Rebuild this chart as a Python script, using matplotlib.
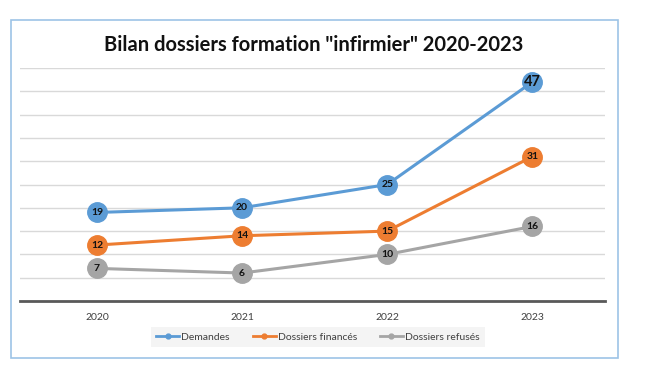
import matplotlib
matplotlib.use('Agg')
import matplotlib.pyplot as plt
from matplotlib.patches import Rectangle

plt.rcParams['font.family'] = ['Lato', 'DejaVu Sans']

# data
annees = ['2020', '2021', '2022', '2023']
demandes = [19, 20, 25, 47]
finances = [12, 14, 15, 31]
refuses = [7, 6, 10, 16]

series = [
    ('Demandes', demandes, '#5B9BD5'),
    ('Dossiers financés', finances, '#ED7D31'),
    ('Dossiers refusés', refuses, '#A5A5A5'),
]

W, H = 650, 370
fig = plt.figure(figsize=(W / 100, H / 100), dpi=100)

# chart border
fig.patches.append(Rectangle((11 / W, 1 - 358 / H), 607 / W, 338 / H, transform=fig.transFigure,
                             fill=False, edgecolor='#9DC3E6', lw=1.2))

ax = fig.add_axes([20 / W, 1 - 301 / H, 585 / W, 233 / H])
x = list(range(len(annees)))

for name, vals, col in series:
    ax.plot(x, vals, color=col, lw=2.2, marker='o', ms=14, mec=col, mfc=col, label=name, zorder=3)
    for xi, v in zip(x, vals):
        fs = 10.5 if v == 47 else 7.5
        ax.text(xi, v, str(v), ha='center', va='center', fontsize=fs, fontweight='bold',
                color='#111111', zorder=4)

ax.set_xlim(-0.53, len(annees) - 0.5)
ax.set_ylim(0, 50)
ax.set_yticks(range(0, 51, 5))
ax.set_yticklabels([])
ax.yaxis.grid(True, color='#D9D9D9', lw=1)
ax.set_axisbelow(True)
ax.tick_params(axis='y', length=0)
ax.tick_params(axis='x', length=0, labelsize=7.5, pad=9, colors='#404040')
ax.set_xticks(x)
ax.set_xticklabels(annees)
for s in ['top', 'right', 'left']:
    ax.spines[s].set_visible(False)
ax.spines['bottom'].set_color('#595959')
ax.spines['bottom'].set_linewidth(2)

fig.text(314 / W, 1 - 45 / H, 'Bilan dossiers formation "infirmier" 2020-2023',
         ha='center', va='center', fontsize=14.5, fontweight='bold', color='#111111')

handles, labels = ax.get_legend_handles_labels()
leg_handles = [plt.Line2D([], [], color=c, lw=2, marker='o', ms=3.5) for _, _, c in series]
leg = fig.legend(leg_handles, labels, loc='center', bbox_to_anchor=(318 / W, 1 - 337 / H), ncol=3,
                 fontsize=7.5, frameon=True, facecolor='#F2F2F2', edgecolor='none', fancybox=False,
                 handlelength=2.2, handletextpad=0.2, columnspacing=2.2, borderpad=0.5)
for t in leg.get_texts():
    t.set_color('#404040')

fig.savefig('out.png', dpi=100, facecolor='white')
